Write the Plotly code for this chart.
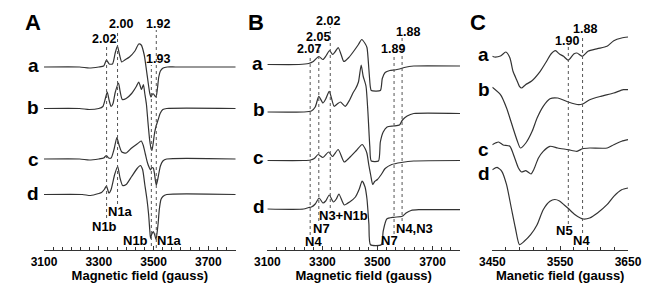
import plotly.graph_objects as go

# ---------------- DATA ----------------
# Panel A: field (gauss) and derivative intensity (a.u.) relative to each baseline
A_a_field = [3100, 3230, 3265, 3300, 3318, 3328, 3338, 3350, 3360, 3368, 3376, 3384, 3395, 3412, 3432, 3446, 3455, 3466, 3474, 3480, 3486, 3491, 3496, 3500, 3505, 3509, 3514, 3519, 3525, 3535, 3550, 3580, 3800]
A_a_int = [0, 0, -1, 0, 1, 7, 3, 3, 14, 21, 12, 5, 7, 10, 16, 23, 22, 12, -3, -15, -26, -30, -27, -27, -29, -30, -22, -10, -4, -1, 0, 0, 0]
A_b_field = [3100, 3230, 3265, 3300, 3315, 3324, 3331, 3338, 3345, 3352, 3360, 3372, 3378, 3386, 3400, 3420, 3437, 3446, 3456, 3463, 3468, 3474, 3480, 3486, 3491, 3494, 3498, 3504, 3510, 3517, 3524, 3534, 3548, 3800]
A_b_int = [0, 0, -1, 0, 2, 10, 16.5, 8, 2, 5, 16, 25.5, 17, 9, 10, 15, 22, 26.5, 19, 24, 15, 4, -15, -32, -40, -42, -36, -24, -17, -11, -5, -1, 0, 0]
A_c_field = [3100, 3230, 3265, 3300, 3318, 3328, 3336, 3345, 3356, 3366, 3374, 3384, 3400, 3420, 3440, 3455, 3462, 3470, 3478, 3485, 3489, 3493, 3499, 3503, 3507, 3510, 3514, 3519, 3525, 3534, 3548, 3800]
A_c_int = [0, 0, -1, 0, 1, 3.5, 1, 1, 10, 21.5, 14, 7, 6, 11, 15, 18, 14, 5, -4, -9, -11, -9, -9, -14, -22, -26, -22, -15, -7, -2, 0, 0]
A_d_field = [3100, 3240, 3270, 3300, 3310, 3320, 3328, 3337, 3345, 3358, 3369, 3378, 3387, 3400, 3420, 3440, 3452, 3460, 3468, 3476, 3482, 3486, 3489, 3493, 3499, 3504, 3509, 3513, 3517, 3521, 3527, 3534, 3548, 3800]
A_d_int = [0, 0, -1, 1, 2, 5, 8.5, 1.5, 5, 20, 28, 16, 9, 10, 18, 26, 29, 25, 10, -5, -20, -35, -44, -40, -37, -40, -45, -38, -28, -15, -5, -2, 0, 0]

# Panel B
B_a_field = [3100, 3215, 3250, 3267, 3287, 3302, 3314, 3326, 3337, 3347, 3357.5, 3368, 3378, 3396, 3413, 3431, 3443, 3455, 3462, 3469, 3474, 3477.6, 3510.6, 3517.6, 3528, 3545, 3563, 3580, 3597.6, 3615, 3632, 3800]
B_a_int = [0, 0, 1, 3, 8, 5, 9, 14, 10, 13, 17, 10, 3, 7, 13, 20, 25, 21, 17, -5, -22, -26, -26, -14, -8, -6, -5.5, -4.5, -3, -2, -1.5, -1.5]
B_b_field = [3100, 3232, 3260, 3274, 3287, 3302, 3312, 3325, 3342.6, 3354, 3365.5, 3383, 3399, 3413, 3420, 3431, 3441, 3448, 3458.4, 3465.4, 3472.4, 3477.6, 3503.7, 3510.6, 3521, 3535, 3559, 3580, 3591, 3608, 3632, 3800]
B_b_int = [0, 0, 1, 5, 15.7, 9, 13, 20.7, 5.7, 8, 10, 5.7, 12, 20, 23, 30, 47, 36, 26, 0, -35, -49, -49, -30, -20, -15, -14, -13, -8, -4, -1.5, -1.5]
B_c_field = [3100, 3232, 3256.6, 3270.5, 3284.4, 3302, 3322.7, 3336.6, 3357.5, 3379.5, 3399, 3423.6, 3444.5, 3455, 3462, 3469, 3475.8, 3482.8, 3489.8, 3500, 3514, 3528, 3552, 3587, 3632, 3800]
B_c_int = [0, 0, 0.5, 2, 6, 3, 8.5, 4, 11, -1.5, 3, 10, 16, 12, 7, -5, -15, -24, -21, -19, -14, -8, -4, -2, -0.5, 0]
B_d_field = [3100, 3232, 3250, 3260, 3274, 3288, 3302, 3312, 3325, 3340, 3350.6, 3360, 3379.5, 3399, 3420, 3434, 3444.5, 3455, 3462, 3469, 3474.8, 3514, 3521, 3534, 3559, 3590, 3604, 3622, 3650, 3800]
B_d_int = [0, 0, 1.5, 2, 5, 11, 6, 8, 14, 7, 10, 15, 4, 7, 12, 20, 28, 22, 10, -15, -35.7, -35.7, -22, -10, -8.3, -7.3, -4, -1.5, -0.7, -0.7]

# Panel C
C_a_field = [3450, 3453, 3462, 3470, 3476, 3480.5, 3486, 3490, 3493, 3499, 3508, 3520.6, 3530, 3536.5, 3543, 3549, 3555, 3562, 3570, 3574.7, 3582.7, 3591, 3605, 3619, 3629, 3640.6, 3650]
C_a_int = [0, -0.7, 0.3, 4.3, -1.7, -15, -23.7, -30, -31.7, -28.4, -24.7, -15, -5, 2.3, 5.6, 2.3, 0, -4, 2.3, 3.3, 0, 5, 7.6, 10, 15.6, 18.3, 19.3]
C_b_field = [3450, 3462, 3471, 3480.5, 3487, 3491.4, 3499.4, 3508.7, 3516, 3525, 3535, 3546.4, 3562, 3577, 3583, 3593.5, 3610, 3629, 3643, 3650]
C_b_int = [0, -7.4, -20.7, -40.7, -54, -60.7, -55.7, -44, -30.7, -19, -11.4, -10.7, -14.7, -17.4, -16.7, -12.4, -9, -5.7, -2.4, -2.4]
C_c_field = [3450, 3454.7, 3459.3, 3466, 3475.8, 3483, 3488.5, 3493, 3499.4, 3507, 3511, 3518, 3525, 3535, 3546.4, 3562, 3574.7, 3583, 3593.5, 3619.4, 3629, 3640.6, 3650]
C_c_int = [0, 1.7, 2.7, -0.3, -1.6, -13.3, -23.3, -27.3, -26, -29.3, -25, -13.3, -6.6, -1.6, -3.3, -5, -6.6, -4, -3.3, -3.3, 0, 3.4, 5]
C_d_field = [3450, 3457, 3464, 3471, 3478, 3484, 3490, 3497, 3506.5, 3516, 3525, 3535, 3542, 3549, 3556, 3562, 3572, 3584, 3593.5, 3605, 3619, 3629, 3640.6, 3650]
C_d_int = [0, 2.4, -1.6, -15, -38.3, -58.3, -75, -71.6, -65, -55, -40, -31.6, -29.8, -31.3, -35.3, -38.8, -45, -49.3, -48.3, -43.3, -35, -26.6, -20, -18.3]

trace_names = ["a", "b", "c", "d"]

# g-value marker positions (gauss) and labels
A_g_fields = [3328.5, 3368.5, 3492, 3510]
A_g_labels = ["2.02", "2.00", "1.93", "1.92"]
A_n_labels = ["N1b", "N1a", "N1b", "N1a"]
B_g_fields = [3255.6, 3287, 3328.6, 3560.4, 3589.6]
B_g_labels = ["2.07", "2.05", "2.02", "1.89", "1.88"]
B_n_labels = ["N4", "N7", "N3+N1b", "N7", "N4,N3"]
C_g_fields = [3562, 3583]
C_g_labels = ["1.90", "1.88"]
C_n_labels = ["N5", "N4"]

A_ticks = [3100, 3300, 3500, 3700]
B_ticks = [3100, 3300, 3500, 3700]
C_ticks = [3450, 3550, 3650]

# ---------------- LAYOUT HELPERS ----------------
W, H = 651, 287
AXIS_PX = 242  # pixel row of the field axes
FONT = "Liberation Sans, Arial, sans-serif"
LINE_COLOR = "#333333"

A_offsets = [183, 141.5, 91, 55.5]
B_offsets = [185.5, 138, 89.5, 41]
C_offsets = [193.7, 162.7, 105.3, 80.3]

fig = go.Figure()

panels = [
    ("x", "y", [(A_a_field, A_a_int), (A_b_field, A_b_int), (A_c_field, A_c_int), (A_d_field, A_d_int)], A_offsets),
    ("x2", "y2", [(B_a_field, B_a_int), (B_b_field, B_b_int), (B_c_field, B_c_int), (B_d_field, B_d_int)], B_offsets),
    ("x3", "y3", [(C_a_field, C_a_int), (C_b_field, C_b_int), (C_c_field, C_c_int), (C_d_field, C_d_int)], C_offsets),
]
for xa, ya, series, offs in panels:
    for name, (fx, iy), off in zip(trace_names, series, offs):
        fig.add_trace(go.Scatter(
            x=fx, y=[off + v for v in iy], mode="lines", name=name,
            xaxis=xa, yaxis=ya, showlegend=False,
            line=dict(color=LINE_COLOR, width=1.2, shape="spline", smoothing=0.6),
            hoverinfo="skip"))

def pxy(py):
    return AXIS_PX - py

shapes = []
annotations = []

def gline(xref, yref, xv, top_px, bot_px):
    shapes.append(dict(type="line", xref=xref, yref=yref, x0=xv, x1=xv,
                       y0=pxy(bot_px), y1=pxy(top_px),
                       line=dict(color="#555555", width=1, dash="dot")))

def label(xref, yref, xv, py, text, size=12.5):
    annotations.append(dict(xref=xref, yref=yref, x=xv, y=pxy(py), text=text,
                            showarrow=False, xanchor="center", yanchor="middle",
                            font=dict(family=FONT, size=size, color="black", weight="bold")))

# Panel A dotted lines and labels
A_tops = [36, 22, 57, 22]
A_bots = [210, 196, 238, 240]
for g, t, b in zip(A_g_fields, A_tops, A_bots):
    gline("x", "y", g, t, b)
A_glab_pos = [(3320.5, 31), (3380, 16), (3516.5, 51), (3518, 16)]
for (gx, py), txt in zip(A_glab_pos, A_g_labels):
    label("x", "y", gx, py, txt)
A_nlab_pos = [(3322, 218), (3378, 203), (3434, 232), (3558.5, 232)]
for (gx, py), txt in zip(A_nlab_pos, A_n_labels):
    label("x", "y", gx, py, txt, 13)

# Panel B
B_tops = [47, 35, 19, 47, 30]
B_bots = [227, 213, 200, 226, 213]
for g, t, b in zip(B_g_fields, B_tops, B_bots):
    gline("x2", "y2", g, t, b)
B_glab_pos = [(3249.6, 41), (3284.4, 29), (3319, 12.5), (3556, 41), (3610, 24)]
for (gx, py), txt in zip(B_glab_pos, B_g_labels):
    label("x2", "y2", gx, py, txt)
B_nlab_pos = [(3267, 233), (3298, 220), (3378.4, 207), (3545.4, 232), (3636, 220)]
for (gx, py), txt in zip(B_nlab_pos, B_n_labels):
    label("x2", "y2", gx, py, txt, 13)

# Panel C
C_tops = [38, 27]
C_bots = [216, 225]
for g, t, b in zip(C_g_fields, C_tops, C_bots):
    gline("x3", "y3", g, t, b)
C_glab_pos = [(3560.6, 32.5), (3586, 21)]
for (gx, py), txt in zip(C_glab_pos, C_g_labels):
    label("x3", "y3", gx, py, txt)
C_nlab_pos = [(3556.3, 222), (3581.7, 232)]
for (gx, py), txt in zip(C_nlab_pos, C_n_labels):
    label("x3", "y3", gx, py, txt, 13)

# panel letters and trace letters (paper coords)
def plabel(px, py, text, size):
    annotations.append(dict(xref="paper", yref="paper", x=px / W, y=1 - py / H, text=text,
                            showarrow=False, xanchor="center", yanchor="middle",
                            font=dict(family=FONT, size=size, color="black", weight="bold")))

for px, py, t in [(13, 14, "A"), (245, 14, "B"), (477, 14, "C")]:
    plabel(px, py, t, 22)
letter_pos = [
    [(13, 57), (13, 99), (13, 151), (13, 185)],
    [(247, 56), (248, 102), (248, 149), (248, 198)],
    [(483, 47), (483, 81), (483, 141), (483, 165)],
]
for pos in letter_pos:
    for (px, py), t in zip(pos, trace_names):
        plabel(px, py, t, 19)

ydom = [(H - AXIS_PX) / H, 1]
yax = dict(domain=ydom, range=[0, AXIS_PX], visible=False, fixedrange=True)

def xax(domain_px, rng, ticks, minor_step, anchor, title):
    return dict(domain=[domain_px[0] / W, domain_px[1] / W], range=rng, anchor=anchor,
                tickmode="array", tickvals=ticks, ticktext=[str(t) for t in ticks],
                ticks="inside", ticklen=4, tickwidth=1, tickcolor="#333",
                minor=dict(ticks="inside", ticklen=3, tickwidth=1, tickcolor="#333",
                           tick0=rng[0], dtick=minor_step),
                showline=True, linecolor="#333", linewidth=1.2, showgrid=False, zeroline=False,
                ticklabelstandoff=0,
                tickfont=dict(family=FONT, size=12, color="black", weight="bold"),
                title=dict(text=title, standoff=0,
                           font=dict(family=FONT, size=13, color="black", weight="bold")))

fig.update_layout(
    width=W, height=H,
    margin=dict(l=0, r=0, t=0, b=0),
    paper_bgcolor="white", plot_bgcolor="white",
    xaxis=xax((24, 224), [3100, 3800], A_ticks, 100 / 3, "y", "Magnetic field (gauss)"),
    xaxis2=xax((257, 458), [3100, 3800], B_ticks, 100 / 3, "y2", "Magnetic field (gauss)"),
    xaxis3=xax((491.7, 633.3), [3450, 3650], C_ticks, 20, "y3", "Manetic field (gauss)"),
    yaxis=dict(yax, anchor="x"),
    yaxis2=dict(yax, anchor="x2"),
    yaxis3=dict(yax, anchor="x3"),
    shapes=shapes,
    annotations=annotations,
)

fig.write_html("out.html")
